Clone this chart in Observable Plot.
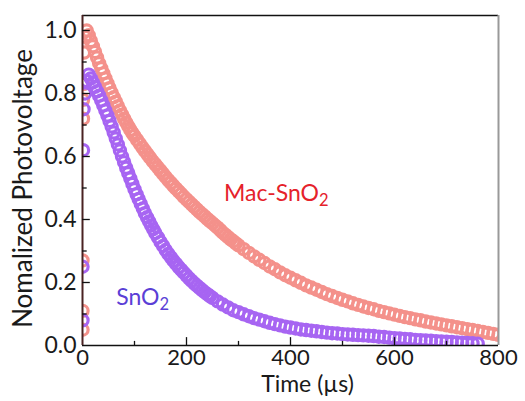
<!DOCTYPE html>
<html><head><meta charset="utf-8">
<script src="https://cdn.jsdelivr.net/npm/d3@7"></script>
<script src="https://cdn.jsdelivr.net/npm/@observablehq/plot@0.6"></script>
<style>html,body{margin:0;padding:0;background:#fff} svg{display:block}</style>
</head><body><div id="chart"></div>
<script>
// Mac-SnO2 transient photovoltage (time in µs, normalized value)
const macTime = [0,0,0,1,1,2,3,5,8,12,16,20,24,28,32,36,40,44,48,52,56,60,64,68,72,76,80,84,88,92,96,100,105,110,115,120,125,130,135,140,145,150,155,160,165,170,175,180,185,190,195,200,205,210,215,220,225,230,235,240,245,250,255,260,265,270,275,280,285,290,295,300,310,320,330,340,350,360,370,380,390,400,410,420,430,440,450,460,470,480,490,500,510,520,530,540,550,560,570,580,590,600,610,620,630,640,650,660,670,680,690,700,710,720,730,740,750,760,770,780,790,800];
const macValue = [0.05,0.11,0.27,0.72,0.78,0.83,0.93,0.98,1.0,0.985,0.967,0.95,0.932,0.914,0.896,0.88,0.864,0.848,0.832,0.817,0.802,0.788,0.774,0.76,0.746,0.733,0.72,0.708,0.696,0.685,0.674,0.665,0.653,0.641,0.629,0.618,0.607,0.596,0.585,0.575,0.565,0.555,0.545,0.535,0.525,0.516,0.507,0.498,0.489,0.481,0.472,0.464,0.456,0.448,0.44,0.432,0.424,0.417,0.41,0.402,0.395,0.388,0.381,0.374,0.366,0.358,0.351,0.344,0.337,0.331,0.324,0.318,0.306,0.294,0.283,0.272,0.262,0.251,0.242,0.232,0.223,0.215,0.207,0.199,0.191,0.184,0.177,0.170,0.163,0.157,0.151,0.145,0.140,0.134,0.129,0.124,0.119,0.115,0.110,0.106,0.102,0.098,0.094,0.090,0.087,0.083,0.080,0.076,0.073,0.070,0.067,0.064,0.061,0.058,0.055,0.052,0.049,0.046,0.043,0.040,0.037,0.034];
// SnO2 transient photovoltage
const snoTime = [0,0,1,2,5,8,12,16,20,24,28,32,36,40,44,48,52,56,60,64,68,72,76,80,84,88,92,96,100,104,108,112,116,120,124,128,132,136,140,145,150,155,160,165,170,175,180,185,190,195,200,205,210,215,220,225,230,235,240,245,250,260,270,280,290,300,310,320,330,340,350,360,370,380,390,400,410,420,430,440,450,460,470,480,490,500,510,520,530,540,550,560,570,580,590,600,610,620,630,640,650,660,670,680,690,700,710,720,730,740,750,760];
const snoValue = [0.08,0.25,0.62,0.75,0.80,0.84,0.86,0.848,0.835,0.821,0.807,0.793,0.778,0.762,0.746,0.73,0.713,0.695,0.676,0.657,0.638,0.619,0.6,0.582,0.564,0.547,0.53,0.513,0.496,0.48,0.465,0.45,0.435,0.42,0.407,0.394,0.381,0.369,0.357,0.343,0.329,0.316,0.303,0.291,0.28,0.269,0.259,0.249,0.24,0.231,0.222,0.213,0.205,0.197,0.19,0.183,0.176,0.169,0.163,0.157,0.151,0.14,0.13,0.121,0.112,0.106,0.099,0.093,0.087,0.082,0.077,0.072,0.068,0.064,0.06,0.057,0.054,0.051,0.049,0.047,0.045,0.043,0.041,0.039,0.038,0.036,0.035,0.034,0.033,0.032,0.031,0.030,0.028,0.027,0.025,0.023,0.022,0.021,0.020,0.018,0.017,0.016,0.015,0.014,0.013,0.012,0.011,0.010,0.009,0.008,0.007,0.006];

const xTicks = [0,200,400,600,800];
const xMinor = [100,300,500,700];
const yTicks = [0,0.2,0.4,0.6,0.8,1.0];
const yMinor = [0.1,0.3,0.5,0.7,0.9];
const seriesNames = ["Mac-SnO2","SnO2"];
const labelTime = [272,65];
const labelValue = [0.483,0.152];

const mac = macTime.map((t,i)=>({t, v: macValue[i]}));
const sno = snoTime.map((t,i)=>({t, v: snoValue[i]}));
const labels = seriesNames.map((s,i)=>({s, t: labelTime[i], v: labelValue[i]}));

const yMax = 1.0476;
const font = "Lato, 'Open Sans', sans-serif";

const chart = Plot.plot({
  width: 525, height: 401,
  marginLeft: 82, marginRight: 27, marginTop: 15, marginBottom: 56,
  style: {fontFamily: font, background: "#fff", color: "#1a1a1a"},
  x: {domain: [0, 800]},
  y: {domain: [0, yMax]},
  marks: [
    Plot.dot(mac, {x: "t", y: "v", r: 5.6, stroke: "#f4918b", strokeWidth: 3.2, fill: "none", clip: true}),
    Plot.dot(sno, {x: "t", y: "v", r: 5.6, stroke: "#a765f2", strokeWidth: 3.2, fill: "none", clip: true}),
    // frame
    Plot.ruleY([yMax], {stroke: "#111", strokeWidth: 1.5}),
    Plot.ruleX([800], {stroke: "#999", strokeWidth: 2}),
    Plot.ruleY([0], {stroke: "#111", strokeWidth: 1.5}),
    Plot.ruleX([0], {stroke: "#4a2222", strokeWidth: 2}),
    // inward ticks
    Plot.ruleX(xTicks.slice(1, -1), {x: d => d, y1: 0, y2: 0.025, stroke: "#111", strokeWidth: 1.3}),
    Plot.ruleX(xMinor, {x: d => d, y1: 0, y2: 0.013, stroke: "#111", strokeWidth: 1.3}),
    Plot.ruleY(yTicks.slice(1), {y: d => d, x1: 0, x2: 15, stroke: "#111", strokeWidth: 1.3}),
    Plot.ruleY(yMinor, {y: d => d, x1: 0, x2: 9, stroke: "#111", strokeWidth: 1.3}),
    Plot.axisX(xTicks, {tickSize: 0, tickPadding: 4, fontSize: 22, label: null, fill: "#1a1a1a"}),
    Plot.axisY(yTicks, {tickSize: 0, tickPadding: 6, fontSize: 23, label: null, tickFormat: d3.format(".1f"), fill: "#1a1a1a"}),
    Plot.text(["Time (µs)"], {frameAnchor: "bottom", textAnchor: "middle", lineAnchor: "middle", dx: 17, dy: 39, fontSize: 23, fill: "#1a1a1a"}),
    Plot.text(["Nomalized Photovoltage"], {frameAnchor: "left", textAnchor: "middle", lineAnchor: "middle", rotate: -90, dx: -59, dy: 8, fontSize: 26, fill: "#1a1a1a"}),
    Plot.text(labels, {x: "t", y: "v", text: "s", textAnchor: "start", fontSize: 23, fill: (d) => d.s === "SnO2" ? "#5b3fd6" : "#e5222b"})
  ]
});

// subscript the "2" in SnO2 labels
d3.select(chart).selectAll("text").each(function() {
  const txt = this.textContent;
  if (txt === "Mac-SnO2" || txt === "SnO2") {
    const sel = d3.select(this);
    sel.text(txt.slice(0, -1));
    sel.append("tspan").attr("dy", "0.3em").attr("font-size", "0.72em").text("2");
  }
});

document.getElementById("chart").appendChild(chart);
</script>
</body></html>
